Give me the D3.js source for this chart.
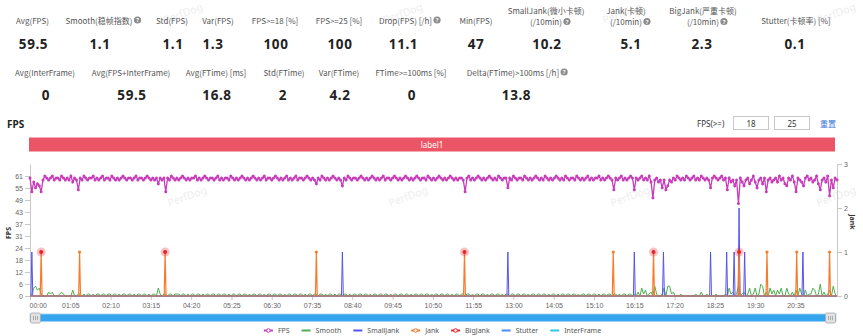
<!DOCTYPE html>
<html><head><meta charset="utf-8">
<script src="https://cdn.jsdelivr.net/npm/d3@7"></script>
<style>
html,body{margin:0;padding:0;background:#fff;}
svg{display:block;font-family:"Noto Sans","Noto Sans CJK SC",sans-serif;}
.lbl{font-size:8px;fill:#555;font-family:"Noto Sans CJK SC","Noto Sans",sans-serif;}
.val{font-size:13.5px;font-weight:bold;fill:#222;letter-spacing:0.6px;}
.ax text{font-size:7px;fill:#666;}
.ax path,.ax line{stroke:#c8c8c8;}
.leg{font-size:7px;fill:#555;}
</style></head><body>
<svg id="c" width="863" height="336"></svg>
<script>
// ---------------- DATA ----------------
const statLabelsRow1 = ["Avg(FPS)","Smooth(稳帧指数)","Std(FPS)","Var(FPS)","FPS>=18 [%]","FPS>=25 [%]","Drop(FPS) [/h]","Min(FPS)","SmallJank(微小卡顿)\n(/10min)","Jank(卡顿)\n(/10min)","BigJank(严重卡顿)\n(/10min)","Stutter(卡顿率) [%]"];
const statValuesRow1 = ["59.5","1.1","1.1","1.3","100","100","11.1","47","10.2","5.1","2.3","0.1"];
const statHelpRow1 = [false,true,false,false,false,false,true,false,true,true,true,false];
const statLabelsRow2 = ["Avg(InterFrame)","Avg(FPS+InterFrame)","Avg(FTime) [ms]","Std(FTime)","Var(FTime)","FTime>=100ms [%]","Delta(FTime)>100ms [/h]"];
const statValuesRow2 = ["0","59.5","16.8","2","4.2","0","13.8"];
const statHelpRow2 = [false,false,false,false,false,false,true];

const chartTitle = "FPS";
const labelBand = "label1";
const fpsThresholds = ["18","25"];

const xTickLabels = ["00:00","01:05","02:10","03:15","04:20","05:25","06:30","07:35","08:40","09:45","10:50","11:55","13:00","14:05","15:10","16:15","17:20","18:25","19:30","20:35"];
const leftTickLabels = [0,6,12,18,24,31,37,43,49,55,61];
const rightTickLabels = [0,1,2,3];
const durationSec = 1302;
const sampleStepSec = 3;

// FPS sampled every 3 s
const fpsValues = [
60,53,58,55,57,56,53,59,61,60,59,60,61,59,60,60,59,61,60,59,
60,59,61,58,60,59,54,60,59,61,60,59,60,60,61,59,60,59,60,61,
59,60,60,59,61,60,59,60,59,60,61,60,59,60,60,59,60,61,59,60,
60,59,60,61,60,59,60,59,60,57,60,59,60,53,60,59,61,60,59,60,
59,60,61,60,59,60,59,60,60,61,59,60,59,60,61,60,59,60,60,59,
60,61,59,60,59,60,60,59,61,60,59,60,59,60,61,60,59,60,59,60,
61,60,59,60,59,60,61,59,60,60,59,60,61,60,59,60,59,60,61,59,
60,59,60,61,59,60,60,59,60,61,60,59,60,59,57,60,59,61,60,59,
60,59,60,61,60,59,60,59,56,60,59,61,60,59,60,60,59,60,61,60,
59,60,59,60,61,60,59,60,59,60,61,59,60,60,59,60,61,60,59,60,
59,60,61,60,59,60,59,60,61,60,59,60,60,59,61,60,59,60,59,60,
61,60,59,60,59,60,61,60,59,60,59,60,60,59,53,60,61,59,60,59,
60,61,60,59,60,59,60,61,60,59,60,59,61,60,59,60,60,55,60,59,
61,60,59,60,60,59,61,60,59,60,59,60,61,60,59,60,59,61,60,59,
60,59,60,61,60,59,60,59,61,60,59,60,60,59,61,60,59,60,59,60,
61,59,60,59,60,60,61,59,60,59,60,61,60,59,54,60,59,60,61,59,
60,59,60,61,60,54,60,59,60,61,59,60,59,61,58,50,59,60,58,59,
55,59,54,56,59,58,60,59,61,60,59,60,59,61,60,59,60,61,59,60,
59,61,60,59,60,59,55,60,61,60,59,60,61,59,60,54,60,58,59,56,
59,47,60,58,56,59,60,57,59,61,58,55,59,60,57,60,53,59,60,58,
59,60,58,61,59,60,57,56,60,59,61,58,53,60,59,58,56,60,61,59,
60,58,59,61,57,54,59,60,58,61,51,59,55,60,59
];
// Smooth sampled every 3 s
const smoothValues = [
0,1,4,5,3,4,1,0,0,0,2,1,2,0,0,0,1,2,1,0,
0,0,0,3,0,0,1,1,0,1,0,1,1,0,1,0,1,1,0,1,
1,0,1,1,0,1,1,0,1,0,1,1,0,1,1,0,1,0,1,1,
0,1,1,0,1,0,1,1,0,4,1,0,1,1,0,1,1,0,1,1,
1,0,1,1,0,1,0,1,1,0,1,1,0,1,0,1,1,0,1,1,
0,1,1,0,1,1,0,1,0,1,1,0,1,1,0,1,1,0,1,0,
1,1,0,1,1,0,1,0,1,1,0,1,1,0,1,1,0,1,0,1,
1,0,1,1,0,1,1,0,1,0,1,1,0,1,1,0,1,1,0,1,
0,1,1,0,1,0,1,1,0,1,1,0,1,0,1,1,0,1,1,0,
1,1,0,1,0,1,1,0,1,1,0,1,1,0,1,0,1,1,0,1,
1,0,1,1,0,1,0,1,1,0,1,1,0,1,1,0,1,0,1,1,
0,1,1,0,1,1,0,1,0,1,1,0,1,1,0,1,1,0,1,0,
1,1,0,1,1,0,1,0,1,1,0,1,1,0,1,0,1,1,0,1,
1,0,1,1,0,1,1,0,1,0,1,1,0,1,1,0,1,1,0,1,
0,1,1,0,1,0,1,1,0,1,1,0,1,1,0,1,0,1,1,0,
1,1,0,1,1,0,1,0,1,1,0,1,1,0,1,1,0,1,0,1,
1,0,1,1,0,1,0,2,0,4,1,3,0,1,2,0,5,1,0,0,
1,4,0,5,5,1,2,0,0,0,1,0,0,0,0,0,0,0,1,0,
0,2,0,0,1,0,0,0,0,1,0,0,0,0,1,0,4,1,2,0,
1,5,0,1,2,0,1,4,0,1,4,0,1,6,5,0,2,0,4,1,
3,0,3,1,4,0,0,4,1,0,2,0,3,0,4,1,0,3,0,1,
1,4,3,0,1,6,0,2,0,1,3,0,5,1,0
];
// jank-type events: [second, count]
const smallJankEvents = [[3,1],[504,1],[771,1],[975,1],[1022,1],[1098,1],[1124,1],[1136,1],[1144,2],[1153,1],[1247,1]];
const jankEvents = [[18,1],[80,1],[218,1],[462,1],[701,1],[941,1],[1006,1],[1144,1],[1189,1],[1237,1],[1290,1]];
const bigJankEvents = [[18,1],[218,1],[701,1],[1006,1],[1144,1]];
const stutterEvents = [];
const interFrameEvents = [];

const seriesNames = ["FPS","Smooth","SmallJank","Jank","BigJank","Stutter","InterFrame"];
const seriesColors = ["#c73cb9","#4caf50","#5454ee","#f57c2c","#e8242c","#4a8ef0","#2ec6e0"];
const seriesHasSymbol = [true,false,false,true,true,false,false];

// ---------------- DRAW ----------------
const svg = d3.select("#c");

// watermarks
const wmPos = [[183,13],[403,13],[622,13],[836,13],[187,196],[408,196],[630,196],[836,196]];
svg.append("g").selectAll("text").data(wmPos).join("text")
  .attr("transform",d=>`translate(${d[0]},${d[1]}) rotate(-20)`)
  .attr("text-anchor","middle").attr("dominant-baseline","central")
  .style("font-size","10.5px").style("fill","#000").style("opacity",0.07).text("PerfDog");

function helpIcon(cx, cy){
  svg.append("circle").attr("cx",cx).attr("cy",cy).attr("r",3.6).attr("fill","#8d8d8d");
  svg.append("text").attr("x",cx).attr("y",cy+0.2).attr("text-anchor","middle").attr("dominant-baseline","central")
    .style("font-size","5.5px").style("font-weight","bold").style("fill","#fff").text("?");
}
function drawStats(labels, values, help, labelCx, valueCx, labelY, valueY){
  labels.forEach((lab,i)=>{
    const lines = lab.split("\n");
    lines.forEach((ln,j)=>{
      const y = lines.length===1 ? labelY : labelY - 10 + j*11.5;
      const t = svg.append("text").attr("class","lbl").attr("x",labelCx[i]).attr("y",y)
        .attr("text-anchor","middle").attr("dominant-baseline","central").text(ln);
      if(help[i] && j===lines.length-1){
        const w = t.node().getComputedTextLength();
        helpIcon(labelCx[i]+w/2+5, y);
      }
    });
    svg.append("text").attr("class","val").attr("x",valueCx[i]).attr("y",valueY)
      .attr("text-anchor","middle").attr("dominant-baseline","central").text(values[i]);
  });
}
drawStats(statLabelsRow1, statValuesRow1, statHelpRow1,
  [32.5,99,172,218,275,339,405.5,476,546,626,703,796],
  [33.5,100,173,213,276,340,403.5,476,547,631,702,795], 20, 43.5);
drawStats(statLabelsRow2, statValuesRow2, statHelpRow2,
  [45,131,216,284,339,411,513],
  [46,132,217,283,340,412,516.5], 72, 94.5);

// header row
svg.append("text").attr("x",7).attr("y",124).attr("dominant-baseline","central")
  .style("font-size","10px").style("font-weight","bold").style("fill","#222").text(chartTitle);
svg.append("text").attr("x",697).attr("y",123).attr("dominant-baseline","central")
  .style("font-size","8px").style("fill","#333").text("FPS(>=)");
[[733,fpsThresholds[0]],[774,fpsThresholds[1]]].forEach(([bx,txt])=>{
  svg.append("rect").attr("x",bx+0.5).attr("y",116.5).attr("width",35).attr("height",13)
    .attr("fill","#fff").attr("stroke","#c8c8c8");
  svg.append("text").attr("x",bx+18).attr("y",123).attr("text-anchor","middle").attr("dominant-baseline","central")
    .style("font-size","8px").style("fill","#333").text(txt);
});
svg.append("text").attr("x",820).attr("y",123).attr("dominant-baseline","central")
  .style("font-size","8px").style("fill","#3d74e0").text("重置");

// scales
const x = d3.scaleLinear().domain([0,durationSec]).range([30,837]);
const yMaxL = 61*1.1;
const yL = d3.scaleLinear().domain([0,yMaxL]).range([296,164]);
const yR = d3.scaleLinear().domain([0,3]).range([296,164]);

// label band
svg.append("rect").attr("x",29).attr("y",137.5).attr("width",806).attr("height",14).attr("fill","#ec5565");
svg.append("text").attr("x",432).attr("y",144.5).attr("text-anchor","middle").attr("dominant-baseline","central")
  .style("font-size","8px").style("fill","#fff").text(labelBand);

// axes
const toSec = s => { const [m,ss] = s.split(":").map(Number); return m*60+ss; };
const gx = svg.append("g").attr("class","ax").attr("transform","translate(0,296)")
  .call(d3.axisBottom(x).tickValues(xTickLabels.map(toSec)).tickFormat((d,i)=>xTickLabels[i]).tickSize(4).tickPadding(3).tickSizeOuter(0));
gx.selectAll(".tick text").filter((d,i)=>i===0).attr("text-anchor","start").attr("dx","-1");
const gl = svg.append("g").attr("class","ax").attr("transform","translate(30,0)")
  .call(d3.axisLeft(yL).tickValues(leftTickLabels.map((d,i)=>i*yMaxL/11)).tickFormat((d,i)=>leftTickLabels[i]).tickSize(5).tickPadding(2).tickSizeOuter(0));
const gr = svg.append("g").attr("class","ax").attr("transform","translate(837,0)")
  .call(d3.axisRight(yR).tickValues(rightTickLabels).tickFormat(d=>d).tickSize(5).tickPadding(2).tickSizeOuter(0));
svg.append("text").attr("transform","translate(8,233) rotate(-90)").attr("text-anchor","middle").attr("dominant-baseline","central")
  .style("font-size","7px").style("font-weight","bold").style("fill","#333").text("FPS");
svg.append("text").attr("transform","translate(852,222) rotate(90)").attr("text-anchor","middle").attr("dominant-baseline","central")
  .style("font-size","7px").style("font-weight","bold").style("fill","#333").text("Jank");

// series helpers
const sampled = arr => arr.map((v,i)=>[i*sampleStepSec, v]);
const spikes = ev => {
  const pts = [[0,0]];
  ev.forEach(([t,v])=>{ pts.push([t-1.5,0],[t,v],[t+1.5,0]); });
  pts.push([durationSec,0]);
  return pts;
};
const lineL = d3.line().x(d=>x(d[0])).y(d=>yL(d[1]));
const lineR = d3.line().x(d=>x(d[0])).y(d=>yR(d[1]));

// Stutter / InterFrame (flat)
svg.append("path").attr("d",lineR(spikes(interFrameEvents))).attr("fill","none").attr("stroke",seriesColors[6]).attr("stroke-width",1);
svg.append("path").attr("d",lineR(spikes(stutterEvents))).attr("fill","none").attr("stroke",seriesColors[5]).attr("stroke-width",1);

// FPS
const fpsPts = sampled(fpsValues);
svg.append("path").attr("d",lineL(fpsPts)).attr("fill","none").attr("stroke",seriesColors[0]).attr("stroke-width",1.3);
svg.append("g").selectAll("circle").data(fpsPts).join("circle")
  .attr("cx",d=>x(d[0])).attr("cy",d=>yL(d[1])).attr("r",1.5).attr("fill",seriesColors[0]);

// Smooth
svg.append("path").attr("d",lineL(sampled(smoothValues))).attr("fill","none").attr("stroke",seriesColors[1]).attr("stroke-width",1);

// SmallJank
svg.append("path").attr("d",lineR(spikes(smallJankEvents))).attr("fill","none").attr("stroke",seriesColors[2]).attr("stroke-width",1);

// Jank
svg.append("path").attr("d",lineR(spikes(jankEvents))).attr("fill","none").attr("stroke",seriesColors[3]).attr("stroke-width",1.2);
svg.append("g").selectAll("circle").data(jankEvents).join("circle")
  .attr("cx",d=>x(d[0])).attr("cy",d=>yR(d[1])).attr("r",1.6).attr("fill",seriesColors[3]);

// BigJank markers
const bj = svg.append("g");
bj.selectAll("circle.h").data(bigJankEvents).join("circle").attr("class","h")
  .attr("cx",d=>x(d[0])).attr("cy",d=>yR(d[1])).attr("r",4.5).attr("fill","rgba(232,36,44,0.28)");
bj.selectAll("circle.c").data(bigJankEvents).join("circle").attr("class","c")
  .attr("cx",d=>x(d[0])).attr("cy",d=>yR(d[1])).attr("r",2).attr("fill",seriesColors[4]);

// slider
const [sx0, sx1] = x.range();
svg.append("rect").attr("x",sx0).attr("y",314).attr("width",sx1-sx0-1).attr("height",7.5).attr("fill","#36a5f0").attr("stroke","#9dd3f8").attr("stroke-width",0.8);
[[sx0,0],[sx1-12,0]].forEach(([hx])=>{
  svg.append("rect").attr("x",hx+0.5).attr("y",313).attr("width",10).attr("height",10).attr("rx",1.5)
    .attr("fill","#e2e2e2").attr("stroke","#a8a8a8").attr("stroke-width",0.8);
  [3.5,5.5,7.5].forEach(o=>svg.append("line").attr("x1",hx+o).attr("x2",hx+o).attr("y1",316).attr("y2",320).attr("stroke","#888").attr("stroke-width",0.6));
});

// legend
const leg = svg.append("g");
let lx = 0; const legItems = [];
seriesNames.forEach((n,i)=>{
  const g = leg.append("g");
  g.append("line").attr("x1",0).attr("x2",9).attr("y1",0).attr("y2",0).attr("stroke",seriesColors[i]).attr("stroke-width",2);
  if(seriesHasSymbol[i]) g.append("circle").attr("cx",4.5).attr("cy",0).attr("r",1.8).attr("fill","#fff").attr("stroke",seriesColors[i]).attr("stroke-width",1);
  const t = g.append("text").attr("class","leg").attr("x",14).attr("y",0).attr("dominant-baseline","central").text(n);
  const w = 14 + t.node().getComputedTextLength();
  legItems.push([g,lx]); lx += w + 12;
});
const totalW = lx - 12, legX0 = 432.5 - totalW/2;
legItems.forEach(([g,o])=>g.attr("transform",`translate(${legX0+o},330.5)`));
</script>
</body></html>
